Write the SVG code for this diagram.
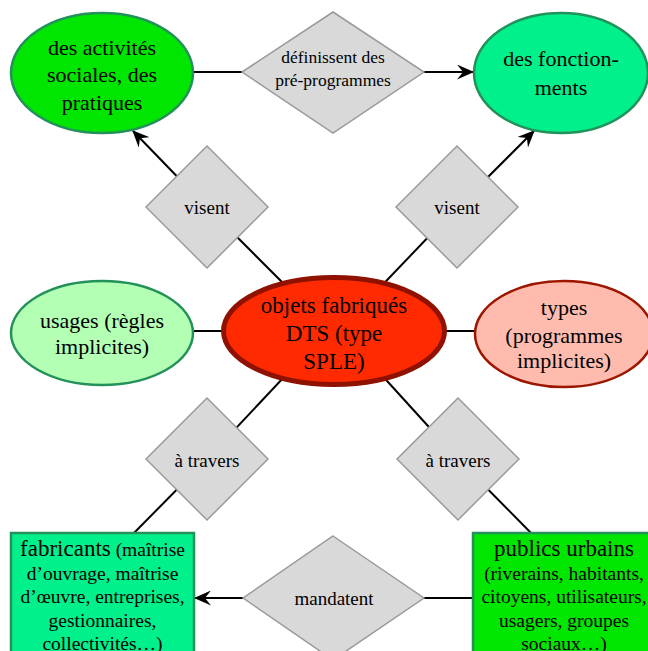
<svg xmlns="http://www.w3.org/2000/svg" width="648" height="651" viewBox="0 0 648 651">
<style>
text{font-family:"Liberation Serif","Times New Roman",serif;fill:#000;text-anchor:middle}
.t22{font-size:22px}
.t23{font-size:23px}
.t19{font-size:19.5px}
.d{fill:#d9d9d9;stroke:#9a9a9a;stroke-width:1.5}
.dt{font-size:19px}
.ln{stroke:#000;stroke-width:2;fill:none}
.gs{stroke:#23915a;stroke-width:2.5}
</style>
<defs>
<marker id="arr" viewBox="0 0 17 15" refX="16" refY="7.5" markerWidth="17" markerHeight="15" markerUnits="userSpaceOnUse" orient="auto">
<path d="M0,0 L17,7.5 L0,15 L6,7.5 Z" fill="#000"/>
</marker>
</defs>
<rect width="648" height="651" fill="#fff"/>
<g id="connectors">
<line class="ln" x1="194" y1="72" x2="260" y2="72"/>
<line class="ln" x1="410" y1="72" x2="473" y2="72" marker-end="url(#arr)"/>
<line class="ln" x1="195" y1="195" x2="133" y2="131" marker-end="url(#arr)"/>
<line class="ln" x1="207" y1="207" x2="300" y2="300"/>
<line class="ln" x1="470" y1="195" x2="534" y2="131" marker-end="url(#arr)"/>
<line class="ln" x1="457" y1="207" x2="368" y2="300"/>
<line class="ln" x1="190" y1="331" x2="230" y2="331"/>
<line class="ln" x1="440" y1="331" x2="478" y2="331"/>
<line class="ln" x1="300" y1="360" x2="207" y2="459"/>
<line class="ln" x1="207" y1="459" x2="132" y2="535"/>
<line class="ln" x1="368" y1="360" x2="458" y2="459"/>
<line class="ln" x1="458" y1="459" x2="533" y2="535"/>
<line class="ln" x1="478" y1="598" x2="400" y2="598"/>
<line class="ln" x1="260" y1="598" x2="195" y2="598" marker-end="url(#arr)"/>
</g>
<g id="n-activites">
<ellipse cx="102" cy="73" rx="91" ry="60" fill="#00e600" class="gs"/>
<text class="t22"><tspan x="102" y="55">des activités</tspan><tspan x="102" y="82">sociales, des</tspan><tspan x="102" y="110">pratiques</tspan></text>
</g>
<g id="n-definissent">
<polygon class="d" points="333,12 424,72 333,133 242,72"/>
<text style="font-size:17.5px"><tspan x="333" y="63">définissent des</tspan><tspan x="333" y="86">pré-programmes</tspan></text>
</g>
<g id="n-fonctionnements">
<ellipse cx="561" cy="73" rx="87" ry="60" fill="#00f08c" class="gs"/>
<text class="t22"><tspan x="561" y="66">des fonction-</tspan><tspan x="561" y="95">ments</tspan></text>
</g>
<g id="n-visent-l">
<polygon class="d" points="207,146 268,207 207,268 146,207"/>
<text class="dt" x="207" y="214">visent</text>
</g>
<g id="n-visent-r">
<polygon class="d" points="457,146 518,207 457,268 396,207"/>
<text class="dt" x="457" y="214">visent</text>
</g>
<g id="n-usages">
<ellipse cx="102" cy="333" rx="91" ry="52" fill="#b3ffb3" class="gs"/>
<text class="t22"><tspan x="102" y="328">usages (règles</tspan><tspan x="102" y="354">implicites)</tspan></text>
</g>
<g id="n-objets">
<ellipse cx="334" cy="331" rx="110.5" ry="53.5" fill="#ff2a00" stroke="#8f1100" stroke-width="5"/>
<text class="t23"><tspan x="334" y="313">objets fabriqués</tspan><tspan x="334" y="341">DTS (type</tspan><tspan x="334" y="369">SPLE)</tspan></text>
</g>
<g id="n-types">
<ellipse cx="564" cy="334" rx="89" ry="53" fill="#ffbbad" stroke="#9c1600" stroke-width="2.5"/>
<text class="t22"><tspan x="564" y="315">types</tspan><tspan x="564" y="343">(programmes</tspan><tspan x="564" y="368">implicites)</tspan></text>
</g>
<g id="n-travers-l">
<polygon class="d" points="207,398 268,459 207,520 146,459"/>
<text class="dt" x="207" y="467">à travers</text>
</g>
<g id="n-travers-r">
<polygon class="d" points="458,398 519,459 458,520 397,459"/>
<text class="dt" x="458" y="467">à travers</text>
</g>
<g id="n-fabricants">
<rect x="11" y="533" width="183" height="140" fill="#00f08c" class="gs"/>
<text class="t19"><tspan x="102.5" y="556"><tspan class="t23">fabricants</tspan> (maîtrise</tspan><tspan x="102.5" y="580">d’ouvrage, maîtrise</tspan><tspan x="102.5" y="603">d’œuvre, entreprises,</tspan><tspan x="102.5" y="627">gestionnaires,</tspan><tspan x="102.5" y="650">collectivités…)</tspan></text>
</g>
<g id="n-mandatent">
<polygon class="d" points="333,536 424,598 333,660 243,598"/>
<text class="dt" x="334" y="605">mandatent</text>
</g>
<g id="n-publics">
<rect x="473" y="533" width="184" height="140" fill="#00e600" class="gs"/>
<text class="t19"><tspan x="564" y="556" class="t23">publics urbains</tspan><tspan x="564" y="580">(riverains, habitants,</tspan><tspan x="564" y="603">citoyens, utilisateurs,</tspan><tspan x="564" y="627">usagers, groupes</tspan><tspan x="564" y="650">sociaux…)</tspan></text>
</g>
</svg>
